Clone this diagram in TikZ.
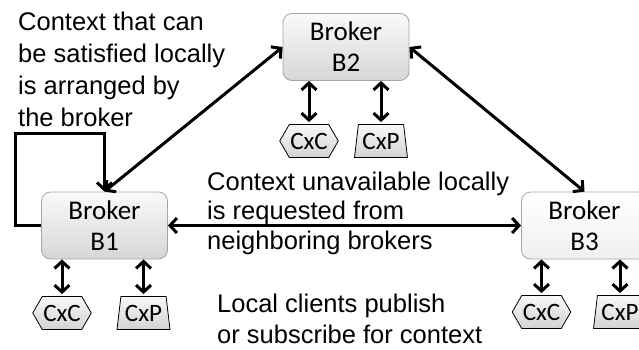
\documentclass[tikz,border=0pt]{standalone}
\usepackage{fontspec}
\setmainfont{Liberation Sans}
\newfontfamily\boxfont{Carlito}
\usetikzlibrary{positioning, shapes.geometric, shapes.symbols, arrows.meta}

\begin{document}
\begin{tikzpicture}[
  x=1pt, y=-1pt,
  every node/.style={inner sep=0pt},
  broker/.style={rectangle, rounded corners=9pt, draw=gray!70, line width=0.8pt, top color=gray!4, bottom color=gray!32, minimum width=126pt, minimum height=67pt, align=center, font=\boxfont\fontsize{27}{31}\selectfont},
  client/.style={draw=black, line width=0.8pt, top color=gray!5, bottom color=gray!35, minimum height=33pt, font=\boxfont\fontsize{25}{28}\selectfont},
  cxc/.style={client, signal, signal to=west and east, signal pointer angle=120, minimum width=58pt, inner xsep=1pt},
  cxp/.style={client, trapezium, trapezium left angle=79, trapezium right angle=79, trapezium stretches=true, minimum width=53pt},
  note/.style={anchor=base west, align=left, font=\fontsize{25.5}{32}\selectfont},
  link/.style={line width=3pt, {Straight Barb[length=7pt,width=15pt]}-{Straight Barb[length=7pt,width=15pt]}},
  loop/.style={line width=3pt, -{Straight Barb[length=7pt,width=15pt]}}
]
\useasboundingbox (0,0) rectangle (639,349);

% Brokers
\node[broker] (b2) at (346,47) {Broker\\B2};
\node[broker] (b1) at (104.5,225.5) {Broker\\B1};
\node[broker, top color=white, bottom color=gray!12] (b3) at (584.5,225.5) {Broker\\B3};

% Local clients
\node[cxc] (cxc2) at (309,141) {CxC};
\node[cxp] (cxp2) at (381,141) {CxP};
\node[cxc] (cxc1) at (62,313) {CxC};
\node[cxp] (cxp1) at (143.5,313) {CxP};
\node[cxc] (cxc3) at (541.5,312) {CxC};
\node[cxp] (cxp3) at (620,312) {CxP};

% Notes (anchored at the last line)
\node[note] (local) at (18,126) {Context that can\\be satisfied locally\\is arranged by\\the broker};
\node[note, font=\fontsize{25.5}{29.5}\selectfont] (remote) at (207,249) {Context unavailable locally\\is requested from\\neighboring brokers};
\node[note, font=\fontsize{25.5}{31}\selectfont] (clients) at (217,343) {Local clients publish\\or subscribe for context};

% Broker links
\draw[link] (b1.north) -- (b2.west);
\draw[link] (b2.east) -- (b3.north);
\draw[link] (b1.east) -- (b3.west);

% Self loop
\coordinate (loopa) at (15,225.5);
\coordinate (loopb) at (15,133);
\coordinate (loopc) at (104.5,133);
\draw[loop] (b1.west) -- (loopa) -- (loopb) -- (loopc) -- (b1.north);

% Client links
\foreach \c/\b in {cxc1/b1, cxp1/b1, cxc2/b2, cxp2/b2, cxc3/b3, cxp3/b3}
  \draw[link, shorten >=2pt] (\c.north |- \b.south) -- (\c.north);

\end{tikzpicture}
\end{document}
